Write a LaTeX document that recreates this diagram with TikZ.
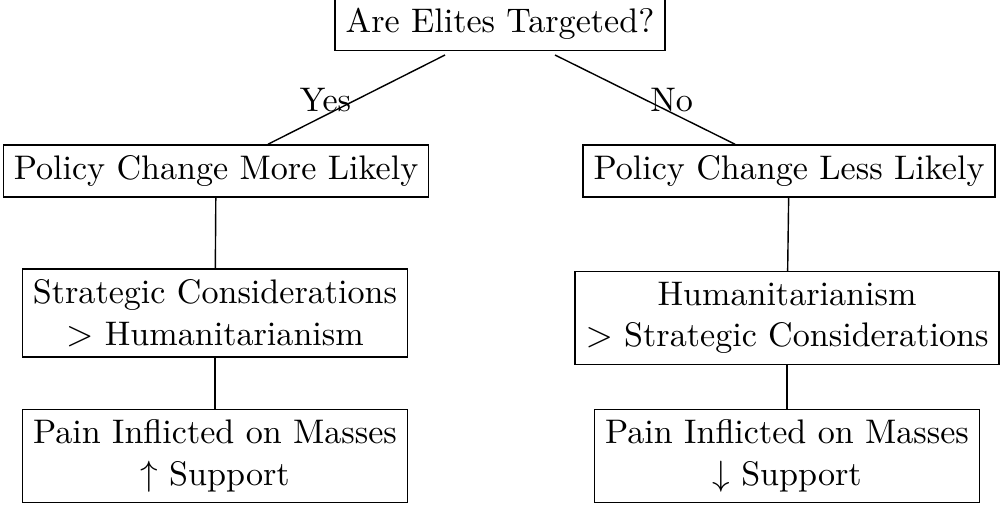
\documentclass[tikz,border=0pt]{standalone}
\usepackage{amssymb}
\begin{document}
\begin{tikzpicture}[every node/.style={font=\fontsize{9.7}{11.8}\selectfont}]
\tikzset{box/.style={draw, align=center, inner sep=3pt}}
\useasboundingbox (0,0) rectangle (10,-5.08);
\node[box] (q) at (5,-0.24) {Are Elites Targeted?};
\node[box] (l1) at (2.16,-1.71) {Policy Change More Likely};
\node[box] (r1) at (7.89,-1.71) {Policy Change Less Likely};
\node[box] (l2) at (2.15,-3.13) {Strategic Considerations\\$>$ Humanitarianism};
\node[box] (r2) at (7.87,-3.18) {Humanitarianism\\$>$ Strategic Considerations};
\node[box, minimum width=3.8cm] (l3) at (2.15,-4.56) {Pain Inflicted on Masses\\$\uparrow$ Support};
\node[box, minimum width=3.8cm] (r3) at (7.87,-4.56) {Pain Inflicted on Masses\\$\downarrow$ Support};
% branches
\coordinate (ys) at (4.45,-0.55);
\coordinate (ns) at (5.55,-0.55);
\draw (ys) -- (l1.north -| 2.68,0) node[midway, above left, xshift=2pt, yshift=-7pt] {Yes};
\draw (ns) -- (r1.north -| 7.35,0) node[midway, above right, xshift=-2pt, yshift=-7pt] {No};
\draw (l1) -- (l2);
\draw (l2) -- (l3);
\draw (r1) -- (r2);
\draw (r2) -- (r3);
\end{tikzpicture}
\end{document}
